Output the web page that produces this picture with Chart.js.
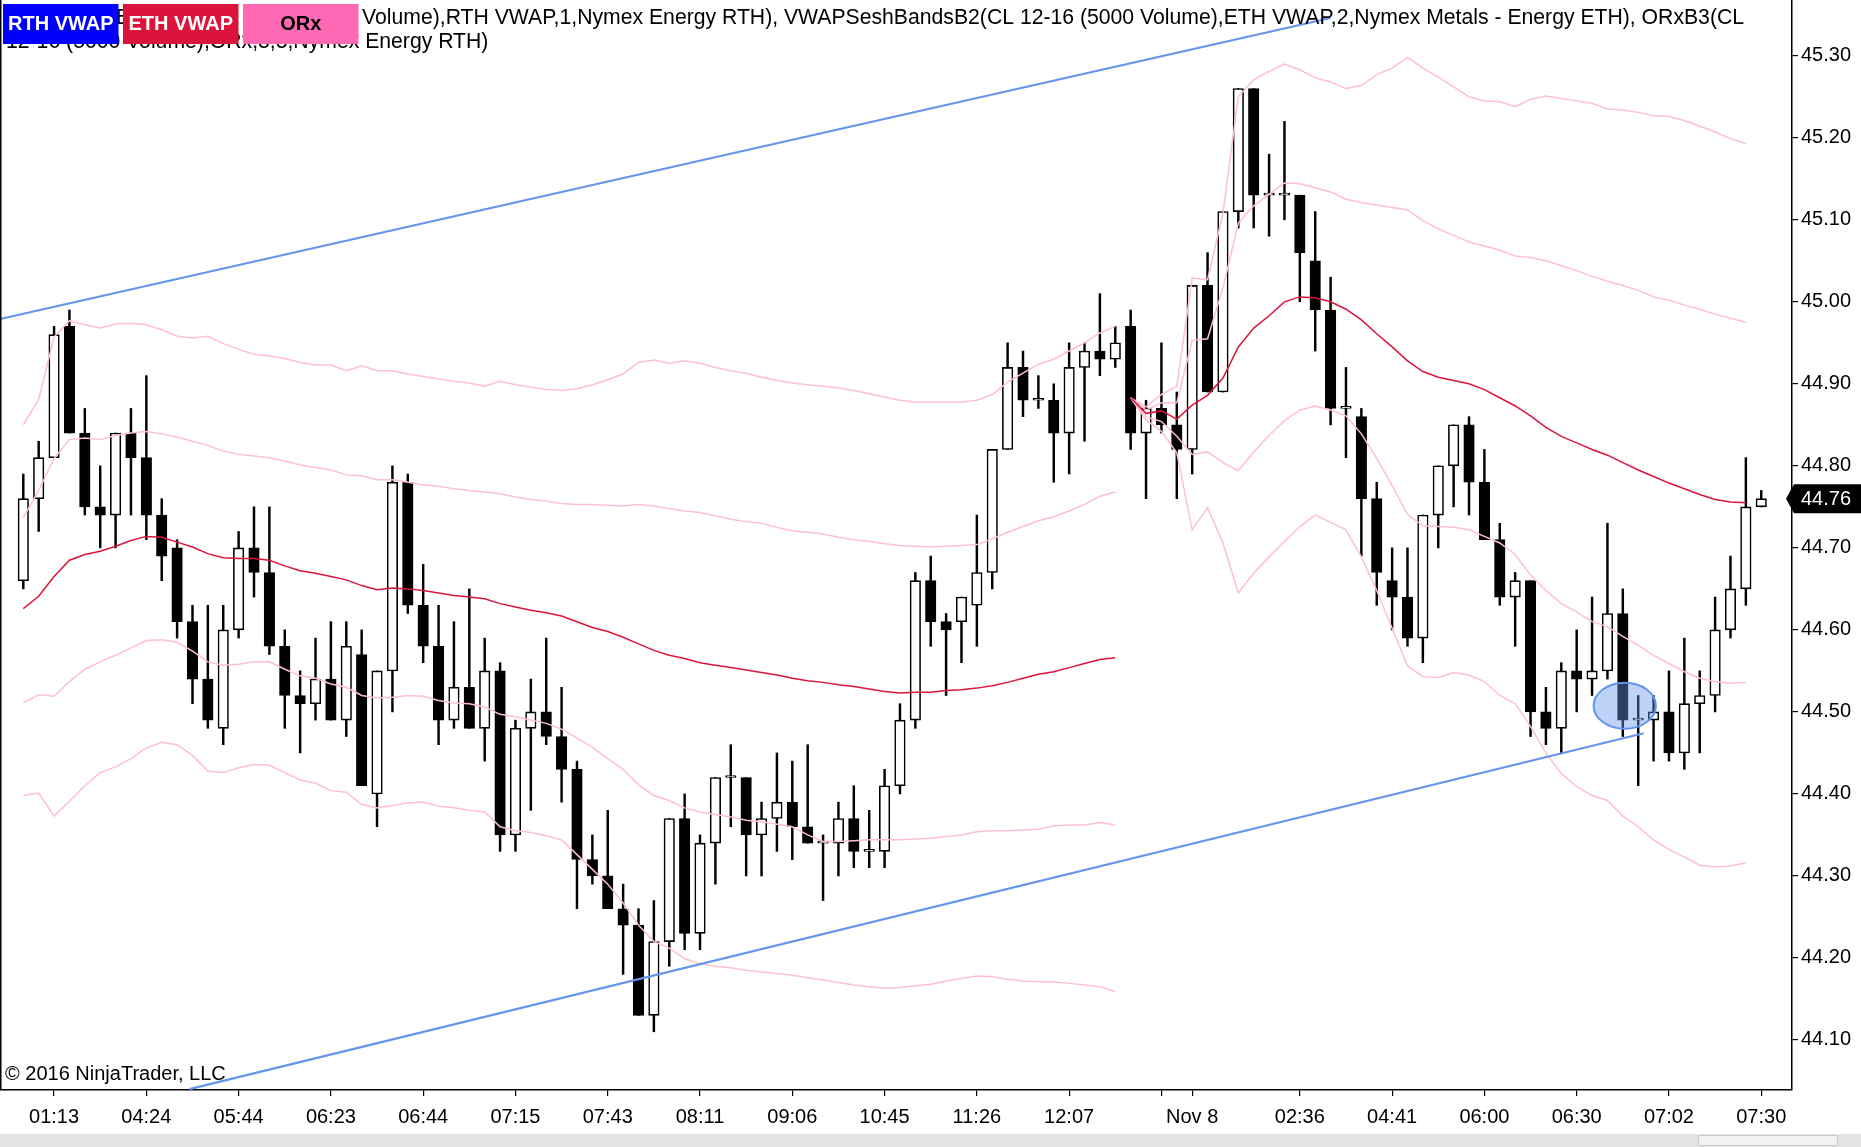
<!DOCTYPE html>
<html><head><meta charset="utf-8">
<script src="https://cdn.jsdelivr.net/npm/chart.js@4.4.0/dist/chart.umd.min.js"></script>
<style>html,body{margin:0;padding:0;background:#fff;overflow:hidden}canvas{display:block}</style>
</head><body>
<canvas id="c" width="1861" height="1147"></canvas>
<script>
// ---- candle data (CL 12-16, 5000 volume bars) ----
const open = [44.66,44.76,44.81,44.97,44.84,44.75,44.74,44.84,44.81,44.74,
44.70,44.61,44.54,44.48,44.60,44.70,44.67,44.58,44.52,44.51,
44.54,44.49,44.57,44.40,44.55,44.78,44.63,44.58,44.49,44.53,
44.48,44.55,44.35,44.48,44.50,44.47,44.43,44.32,44.30,44.26,
44.24,44.13,44.22,44.37,44.23,44.34,44.42,44.42,44.35,44.37,
44.39,44.36,44.34,44.34,44.37,44.33,44.33,44.41,44.49,44.66,
44.61,44.61,44.63,44.67,44.82,44.92,44.88,44.88,44.84,44.92,
44.94,44.93,44.97,44.84,44.87,44.85,44.82,45.02,44.89,45.11,
45.26,45.13,45.13,45.13,45.05,44.99,44.87,44.86,44.76,44.66,
44.64,44.59,44.74,44.80,44.85,44.78,44.71,44.64,44.66,44.50,
44.48,44.55,44.54,44.55,44.62,44.49,44.49,44.50,44.45,44.51,
44.52,44.60,44.65,44.75];
const high = [44.79,44.83,44.97,44.99,44.87,44.80,44.84,44.87,44.91,44.76,
44.71,44.63,44.63,44.63,44.72,44.75,44.75,44.60,44.55,44.59,
44.61,44.61,44.60,44.55,44.80,44.79,44.68,44.63,44.61,44.65,
44.59,44.56,44.49,44.54,44.59,44.53,44.44,44.35,44.38,44.29,
44.26,44.27,44.37,44.40,44.35,44.42,44.46,44.42,44.39,44.45,
44.44,44.46,44.35,44.39,44.41,44.38,44.43,44.51,44.67,44.69,
44.62,44.64,44.74,44.82,44.95,44.94,44.91,44.90,44.95,44.95,
45.01,44.97,44.99,44.88,44.95,44.89,45.02,45.06,45.11,45.26,
45.26,45.18,45.22,45.13,45.11,45.03,44.92,44.87,44.78,44.70,
44.70,44.74,44.80,44.85,44.86,44.82,44.73,44.67,44.66,44.53,
44.56,44.60,44.64,44.73,44.65,44.52,44.52,44.55,44.59,44.55,
44.64,44.69,44.81,44.77];
const low = [44.65,44.72,44.81,44.84,44.74,44.70,44.70,44.74,44.71,44.66,
44.59,44.51,44.48,44.46,44.59,44.64,44.57,44.48,44.45,44.49,
44.49,44.47,44.41,44.36,44.50,44.62,44.56,44.46,44.48,44.48,
44.44,44.33,44.33,44.38,44.46,44.39,44.26,44.29,44.26,44.18,
44.13,44.11,44.19,44.21,44.21,44.29,44.36,44.30,44.30,44.33,
44.32,44.34,44.27,44.30,44.31,44.31,44.31,44.40,44.48,44.58,
44.52,44.56,44.58,44.65,44.82,44.86,44.87,44.78,44.79,44.83,
44.91,44.92,44.82,44.76,44.84,44.76,44.79,44.89,44.89,45.09,
45.09,45.08,45.10,45.00,44.94,44.85,44.81,44.69,44.63,44.60,
44.58,44.56,44.70,44.75,44.74,44.71,44.63,44.58,44.47,44.46,
44.45,44.50,44.52,44.54,44.47,44.41,44.44,44.44,44.43,44.45,
44.50,44.59,44.63,44.75];
const close = [44.76,44.81,44.96,44.84,44.75,44.74,44.84,44.81,44.74,44.69,
44.61,44.54,44.49,44.60,44.70,44.67,44.58,44.52,44.51,44.54,
44.49,44.58,44.41,44.55,44.78,44.63,44.58,44.49,44.53,44.48,
44.55,44.35,44.48,44.50,44.47,44.43,44.32,44.30,44.26,44.24,
44.13,44.22,44.37,44.23,44.34,44.42,44.42,44.35,44.37,44.39,
44.36,44.34,44.34,44.37,44.33,44.33,44.41,44.49,44.66,44.61,
44.60,44.64,44.67,44.82,44.92,44.88,44.88,44.84,44.92,44.94,
44.93,44.95,44.84,44.87,44.85,44.82,45.02,44.89,45.11,45.26,
45.13,45.13,45.13,45.06,44.99,44.87,44.87,44.76,44.67,44.64,
44.59,44.74,44.80,44.85,44.78,44.71,44.64,44.66,44.50,44.48,
44.55,44.54,44.55,44.62,44.49,44.49,44.50,44.45,44.51,44.52,
44.60,44.65,44.75,44.76];

// ---- session 1 VWAP & bands (bars 0..71) ----
const s1Start = 0;
const vwapS1 = [44.626,44.641,44.665,44.685,44.692,44.696,44.702,44.709,44.714,44.713,
44.707,44.701,44.693,44.688,44.687,44.687,44.685,44.678,44.672,44.669,
44.665,44.661,44.654,44.649,44.651,44.650,44.648,44.645,44.642,44.640,
44.638,44.632,44.628,44.624,44.621,44.617,44.610,44.603,44.598,44.591,
44.583,44.575,44.569,44.565,44.560,44.557,44.554,44.551,44.548,44.545,
44.541,44.538,44.536,44.533,44.531,44.528,44.525,44.523,44.524,44.524,
44.526,44.527,44.529,44.532,44.536,44.541,44.546,44.549,44.554,44.559,
44.564,44.566];
const upper1S1 = [44.737,44.770,44.809,44.832,44.834,44.832,44.837,44.840,44.842,44.839,
44.835,44.830,44.825,44.818,44.814,44.812,44.810,44.806,44.801,44.798,
44.795,44.789,44.788,44.783,44.783,44.780,44.777,44.775,44.772,44.770,
44.768,44.766,44.762,44.759,44.757,44.754,44.753,44.753,44.752,44.751,
44.753,44.751,44.748,44.745,44.743,44.739,44.735,44.732,44.730,44.725,
44.721,44.719,44.717,44.713,44.710,44.708,44.705,44.703,44.702,44.701,
44.702,44.703,44.704,44.711,44.719,44.726,44.733,44.738,44.745,44.753,
44.763,44.768];
const upper2S1 = [44.850,44.881,44.957,44.977,44.972,44.968,44.973,44.974,44.972,44.966,
44.958,44.956,44.958,44.949,44.942,44.936,44.934,44.931,44.926,44.923,
44.923,44.916,44.922,44.916,44.916,44.912,44.909,44.906,44.903,44.901,
44.897,44.903,44.899,44.896,44.893,44.892,44.894,44.899,44.905,44.912,
44.926,44.929,44.925,44.928,44.925,44.920,44.916,44.913,44.908,44.904,
44.901,44.899,44.897,44.895,44.892,44.888,44.884,44.880,44.878,44.878,
44.878,44.878,44.880,44.887,44.902,44.913,44.924,44.930,44.940,44.950,
44.962,44.970];
const lower1S1 = [44.511,44.521,44.519,44.537,44.552,44.561,44.569,44.578,44.587,44.588,
44.585,44.574,44.561,44.557,44.558,44.561,44.561,44.552,44.544,44.541,
44.534,44.530,44.520,44.517,44.518,44.520,44.519,44.514,44.511,44.510,
44.506,44.497,44.494,44.490,44.486,44.479,44.468,44.457,44.443,44.430,
44.411,44.398,44.392,44.383,44.378,44.375,44.372,44.368,44.366,44.363,
44.360,44.350,44.342,44.342,44.343,44.344,44.344,44.344,44.345,44.346,
44.348,44.350,44.354,44.355,44.355,44.356,44.357,44.361,44.362,44.362,
44.365,44.362];
const lower2S1 = [44.398,44.401,44.373,44.391,44.410,44.426,44.433,44.443,44.456,44.463,
44.460,44.447,44.428,44.426,44.432,44.436,44.435,44.426,44.417,44.413,
44.404,44.402,44.387,44.383,44.386,44.389,44.390,44.385,44.383,44.380,
44.378,44.360,44.355,44.353,44.349,44.344,44.326,44.308,44.290,44.267,
44.240,44.220,44.212,44.199,44.193,44.190,44.188,44.185,44.183,44.181,
44.179,44.176,44.173,44.170,44.167,44.165,44.163,44.164,44.166,44.168,
44.172,44.175,44.178,44.177,44.174,44.172,44.171,44.171,44.169,44.167,
44.165,44.159];

// ---- session 2 VWAP & bands (bars 72..112) ----
const s2Start = 72;
const vwapS2 = [44.883,44.864,44.867,44.857,44.874,44.886,44.907,44.945,44.968,44.983,
45.000,45.006,45.005,45.000,44.991,44.978,44.961,44.945,44.928,44.915,
44.908,44.904,44.900,44.893,44.883,44.873,44.861,44.847,44.836,44.828,
44.820,44.813,44.804,44.795,44.787,44.779,44.772,44.765,44.759,44.756,
44.755];
const upper1S2 = [44.883,44.868,44.877,44.877,44.953,44.955,45.017,45.096,45.117,45.131,
45.145,45.144,45.139,45.134,45.125,45.121,45.118,45.115,45.112,45.099,
45.089,45.081,45.073,45.068,45.063,45.056,45.054,45.050,45.044,45.038,
45.031,45.025,45.020,45.014,45.006,45.002,44.996,44.991,44.985,44.980,
44.975];
const upper2S2 = [44.883,44.872,44.887,44.897,45.029,45.027,45.108,45.250,45.271,45.281,
45.290,45.283,45.273,45.268,45.260,45.264,45.277,45.285,45.298,45.285,
45.274,45.262,45.250,45.245,45.244,45.238,45.247,45.251,45.248,45.245,
45.242,45.235,45.234,45.231,45.227,45.226,45.221,45.214,45.207,45.199,
45.193];
const lower1S2 = [44.883,44.860,44.854,44.836,44.814,44.817,44.804,44.794,44.817,44.837,
44.855,44.868,44.873,44.868,44.861,44.839,44.809,44.776,44.741,44.727,
44.726,44.725,44.722,44.714,44.706,44.692,44.667,44.648,44.632,44.622,
44.610,44.604,44.592,44.581,44.569,44.559,44.549,44.541,44.537,44.535,
44.536];
const lower2S2 = [44.883,44.856,44.842,44.816,44.722,44.749,44.706,44.645,44.669,44.689,
44.708,44.726,44.740,44.731,44.722,44.689,44.648,44.602,44.556,44.543,
44.542,44.548,44.545,44.537,44.520,44.510,44.482,44.450,44.425,44.409,
44.398,44.392,44.373,44.360,44.344,44.332,44.323,44.313,44.311,44.312,
44.316];

// ---- drawn trend lines (bar index, price) ----
const trendUpper = [{x:-1.5, y:44.979},{x:85, y:45.346}];
const trendLower = [{x:10.8, y:44.040},{x:105.35, y:44.474}];
// ---- highlighted area (ellipse) in bar index / price ----
const highlight = {x0:102.1, x1:106.15, y0:44.4795, y1:44.5356};

// ---- axes ----
const xTickIdx  = [2,8,14,20,26,32,38,44,50,56,62,68,74,76,83,89,95,101,107,113];
const xTickText = ['01:13','04:24','05:44','06:23','06:44','07:15','07:43','08:11','09:06','10:45','11:26','12:07','','Nov 8','02:36','04:41','06:00','06:30','07:02','07:30'];
const yTicks = [44.10,44.20,44.30,44.40,44.50,44.60,44.70,44.80,44.90,45.00,45.10,45.20,45.30];

const headerLines = [
  'VWAPSeshBandsB2(CL 12-16 (5000 Volume),RTH VWAP,1,Nymex Energy RTH), VWAPSeshBandsB2(CL 12-16 (5000 Volume),ETH VWAP,2,Nymex Metals - Energy ETH), ORxB3(CL',
  '12-16 (5000 Volume),ORx,3,3,Nymex Energy RTH)'
];
const headerBoxes = [
  {text:'RTH VWAP', bg:'#0000FF', fg:'#FFFFFF'},
  {text:'ETH VWAP', bg:'#DC143C', fg:'#FFFFFF'},
  {text:'ORx', bg:'#FF69B4', fg:'#000000'}
];
const copyright = '\u00A9 2016 NinjaTrader, LLC';

const FONT = "'Liberation Sans', Arial, sans-serif";
const BAND = '#FFC0CB', VWAPC = '#DC143C', TREND = '#6495ED';

const idx = open.map((_, i) => i);
const wickData = idx.map(i => ({x:i, y:[low[i], high[i]]}));
const bodyData = idx.map(i => ({x:i, y:[open[i], close[i]]}));
const bodyFill = idx.map(i => close[i] >= open[i] ? '#FFFFFF' : '#000000');
const series = (arr, start) => arr.map((v, k) => ({x:start + k, y:v}));

function lineDs(data, color, width, order) {
  return {type:'line', data, borderColor:color, borderWidth:width, pointRadius:0,
          tension:0, fill:false, order, spanGaps:false};
}

const decor = {
  id:'decor',
  beforeDraw(chart) {
    const ctx = chart.ctx;
    ctx.save(); ctx.fillStyle = '#fff'; ctx.fillRect(0, 0, chart.width, chart.height); ctx.restore();
  },
  afterDatasetsDraw(chart) {
    const ctx = chart.ctx, xs = chart.scales.x, ys = chart.scales.y, a = chart.chartArea;
    const xl = xs.getPixelForValue(highlight.x0), xr = xs.getPixelForValue(highlight.x1);
    const yt = ys.getPixelForValue(highlight.y1), yb = ys.getPixelForValue(highlight.y0);
    ctx.save();
    ctx.beginPath(); ctx.rect(a.left, a.top, a.right - a.left, a.bottom - a.top); ctx.clip();
    ctx.beginPath();
    ctx.ellipse((xl + xr) / 2, (yt + yb) / 2, (xr - xl) / 2, (yb - yt) / 2, 0, 0, Math.PI * 2);
    ctx.fillStyle = 'rgba(100,149,237,0.42)'; ctx.fill();
    ctx.strokeStyle = TREND; ctx.lineWidth = 2; ctx.stroke();
    ctx.restore();
  },
  afterDraw(chart) {
    const ctx = chart.ctx, a = chart.chartArea, ys = chart.scales.y;
    ctx.save();
    // left frame
    ctx.strokeStyle = '#000'; ctx.lineWidth = 1.5;
    ctx.beginPath(); ctx.moveTo(a.left + 0.75, a.top); ctx.lineTo(a.left + 0.75, a.bottom); ctx.stroke();
    // header text
    ctx.fillStyle = '#000'; ctx.font = '21.2px ' + FONT; ctx.textBaseline = 'middle'; ctx.textAlign = 'left';
    ctx.fillText(headerLines[0], 6, 18);
    ctx.fillText(headerLines[1], 6, 42);
    // header boxes
    headerBoxes.forEach((b, k) => {
      const bx = 3 + k * 120, bw = 115.5;
      ctx.fillStyle = b.bg; ctx.fillRect(bx, 4, bw, 40);
      ctx.fillStyle = b.fg; ctx.font = 'bold 20px ' + FONT; ctx.textAlign = 'center';
      ctx.fillText(b.text, bx + bw / 2, 24.5);
    });
    // copyright
    ctx.fillStyle = '#000'; ctx.font = '20px ' + FONT; ctx.textAlign = 'left';
    ctx.fillText(copyright, 5, a.bottom - 16);
    // last price marker
    const last = close[close.length - 1];
    const py = ys.getPixelForValue(last), x0 = ys.left;
    ctx.fillStyle = '#000';
    ctx.beginPath();
    ctx.moveTo(x0 - 6, py); ctx.lineTo(x0 + 2, py - 14.5); ctx.lineTo(chart.width, py - 14.5);
    ctx.lineTo(chart.width, py + 14.5); ctx.lineTo(x0 + 2, py + 14.5); ctx.closePath(); ctx.fill();
    ctx.fillStyle = '#fff'; ctx.font = '20px ' + FONT; ctx.textBaseline = 'middle';
    ctx.fillText(last.toFixed(2), x0 + 9, py + 1);
    // bottom scroll strip
    ctx.fillStyle = '#E4E4E4'; ctx.fillRect(0, chart.height - 13, chart.width, 13);
    ctx.fillStyle = '#F2F2F2'; ctx.fillRect(1698, chart.height - 12, 140, 11);
    ctx.strokeStyle = '#CCCCCC'; ctx.lineWidth = 1; ctx.strokeRect(1698.5, chart.height - 11.5, 139, 10);
    ctx.restore();
  }
};

new Chart(document.getElementById('c'), {
  type:'bar',
  data:{
    datasets:[
      lineDs(trendUpper, TREND, 2.2, 0),
      lineDs(trendLower, TREND, 2.2, 0),
      lineDs(series(upper2S1, s1Start), BAND, 1.5, 2),
      lineDs(series(upper1S1, s1Start), BAND, 1.5, 2),
      lineDs(series(lower1S1, s1Start), BAND, 1.5, 2),
      lineDs(series(lower2S1, s1Start), BAND, 1.5, 2),
      lineDs(series(upper2S2, s2Start), BAND, 1.5, 2),
      lineDs(series(upper1S2, s2Start), BAND, 1.5, 2),
      lineDs(series(lower1S2, s2Start), BAND, 1.5, 2),
      lineDs(series(lower2S2, s2Start), BAND, 1.5, 2),
      lineDs(series(vwapS1, s1Start), VWAPC, 1.5, 1),
      lineDs(series(vwapS2, s2Start), VWAPC, 1.5, 1),
      {type:'bar', data:bodyData, backgroundColor:bodyFill, borderColor:'#000', borderWidth:1.6,
       borderSkipped:false, barThickness:10.5, minBarLength:2, grouped:false, order:10},
      {type:'bar', data:wickData, backgroundColor:'#000', borderWidth:0,
       barThickness:1.8, grouped:false, order:11}
    ]
  },
  options:{
    responsive:false, animation:false, devicePixelRatio:1,
    layout:{padding:0},
    plugins:{legend:{display:false}, tooltip:{enabled:false}, title:{display:false}},
    scales:{
      x:{type:'linear', min:-1.515, max:115.0, offset:false, position:'bottom',
        grid:{display:true, drawOnChartArea:false, drawTicks:true, tickLength:6, color:'#000', lineWidth:1.2, offset:false},
        border:{display:true, color:'#000', width:1.5},
        afterBuildTicks:(s) => { s.ticks = xTickIdx.map(v => ({value:v})); },
        afterFit:(s) => { s.height = 57; s.paddingLeft = 0; s.paddingRight = 0; },
        ticks:{autoSkip:false, maxRotation:0, minRotation:0, padding:9, color:'#000',
          font:{family:FONT, size:20},
          callback:(v) => { const k = xTickIdx.indexOf(v); return k >= 0 ? xTickText[k] : ''; }}
      },
      y:{type:'linear', position:'right', min:44.039, max:45.368,
        grid:{display:true, drawOnChartArea:false, drawTicks:true, tickLength:6, color:'#000', lineWidth:1.2},
        border:{display:true, color:'#000', width:1.5},
        afterBuildTicks:(s) => { s.ticks = yTicks.map(v => ({value:v})); },
        afterFit:(s) => { s.width = 69; s.paddingTop = 0; s.paddingBottom = 0; },
        ticks:{padding:3, color:'#000', font:{family:FONT, size:20},
          callback:(v) => Number(v).toFixed(2)}
      }
    }
  },
  plugins:[decor]
});
</script>
</body></html>
